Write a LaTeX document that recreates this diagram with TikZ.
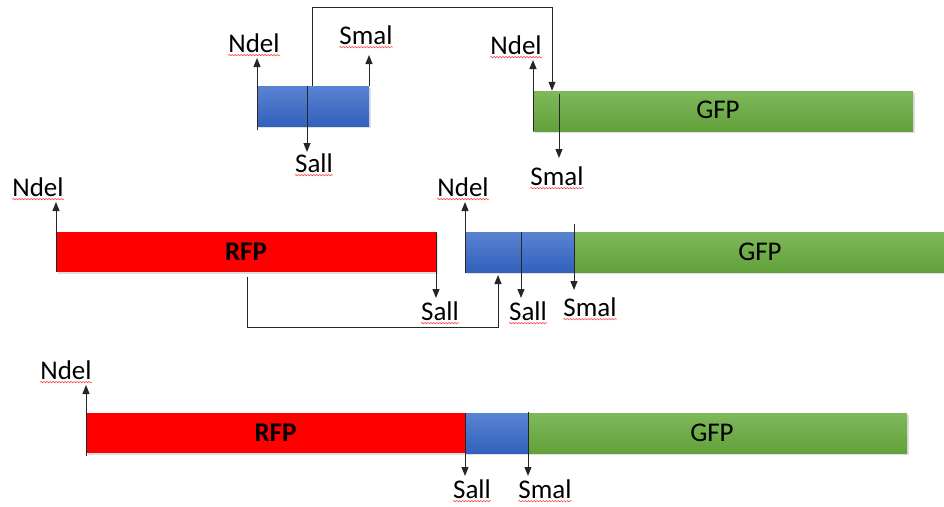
\documentclass[tikz,border=0pt]{standalone}
\usepackage{fontspec}
\setmainfont{Carlito}
\usetikzlibrary{arrows.meta,shadows,decorations.pathmorphing}
\definecolor{bluetop}{HTML}{5A84D2}
\definecolor{bluebot}{HTML}{3261BC}
\definecolor{greentop}{HTML}{7FB95B}
\definecolor{greenbot}{HTML}{62A13A}
\definecolor{redfill}{HTML}{FF0000}
\definecolor{linec}{HTML}{262626}
\tikzset{
  box/.style={inner sep=0pt, minimum height=40pt, font=\fontsize{27}{31}\selectfont,
    drop shadow={opacity=0.25, shadow xshift=1.5pt, shadow yshift=-2pt}},
  bluebox/.style={box, top color=bluetop, bottom color=bluebot},
  greenbox/.style={box, top color=greentop, bottom color=greenbot},
  redbox/.style={box, fill=redfill, font=\fontsize{27}{31}\selectfont\bfseries},
  lbl/.style={inner sep=0pt, font=\fontsize{27}{31}\selectfont, text=black},
  arr/.style={draw=linec, line width=1pt, -{Triangle[length=9pt,width=7pt]}},
  plain/.style={draw=linec, line width=1pt},
  squig/.style={draw=red!80, line width=0.5pt, decorate,
    decoration={snake, segment length=3pt, amplitude=0.7pt}}
}
\newcommand{\squiggle}[1]{\draw[squig] ([yshift=-2.5pt]#1.south west) -- ([yshift=-2.5pt]#1.south east);}
\begin{document}
\begin{tikzpicture}[x=1pt,y=-1pt]
\useasboundingbox (0,0) rectangle (944,506);
% ---------- top row ----------
\node[bluebox, minimum width=112pt] (tb) at (313,106) {};
\node[greenbox, minimum width=380pt] (tg) at (723,111) {};
\node[lbl] at (718,110) {GFP};
\node[lbl] (tn1) at (254,43) {Ndel};
\node[lbl] (ts1) at (366,35) {Smal};
\node[lbl] (tsa) at (314,163) {Sall};
\node[lbl] (tn2) at (516,45) {Ndel};
\node[lbl] (ts2) at (557,176) {Smal};
\coordinate (c1) at (312,7);
\coordinate (c2) at (552,7);
\draw[arr] (257,130) -- (257,58);
\draw[arr] (369,86) -- (369,55);
\draw[arr] (307,86) -- (307,152);
\draw[arr] (tb.north -| 312,0) -- (c1) -- (c2) -- (tg.north -| 552,0);
\draw[arr] (533,131) -- (533,60);
\draw[arr] (559,94) -- (559,158);
% ---------- middle row ----------
\node[redbox, minimum width=380pt] (mr) at (246,252) {RFP};
\node[bluebox, minimum width=109pt] (mb) at (519.5,252) {};
\node[greenbox, minimum width=370pt] (mg) at (759,252) {};
\node[lbl] at (760,252) {GFP};
\node[lbl] (mn1) at (38,187) {Ndel};
\node[lbl] (msa1) at (440,311) {Sall};
\node[lbl] (mn2) at (463,187) {Ndel};
\node[lbl] (msa2) at (528,311) {Sall};
\node[lbl] (msm) at (590,307) {Smal};
\coordinate (c3) at (247,327);
\coordinate (c4) at (498,327);
\draw[arr] (56,272) -- (56,202);
\draw[arr] (436,232) -- (436,298);
\draw[arr] (c3 |- 0,277) -- (c3) -- (c4) -- (498,275);
\draw[arr] (465,273) -- (465,202);
\draw[arr] (521,232) -- (521,298);
\draw[arr] (574,224) -- (574,290);
% ---------- bottom row ----------
\node[redbox, minimum width=379pt] (br) at (275.5,433) {RFP};
\node[bluebox, minimum width=63pt] (bb) at (496.5,433) {};
\node[greenbox, minimum width=379pt] (bg) at (717.5,433) {};
\node[lbl] at (712,433) {GFP};
\node[lbl] (bn) at (66,370) {Ndel};
\node[lbl] (bsa) at (472,489) {Sall};
\node[lbl] (bsm) at (545,489) {Smal};
\draw[arr] (86,456) -- (86,385);
\draw[arr] (465,413) -- (465,476);
\draw[arr] (528,412) -- (528,476);
% ---------- spell-check squiggles ----------
\foreach \n in {tn1,ts1,tsa,tn2,ts2,mn1,msa1,mn2,msa2,msm,bn,bsa,bsm} {\squiggle{\n}}
\end{tikzpicture}
\end{document}
